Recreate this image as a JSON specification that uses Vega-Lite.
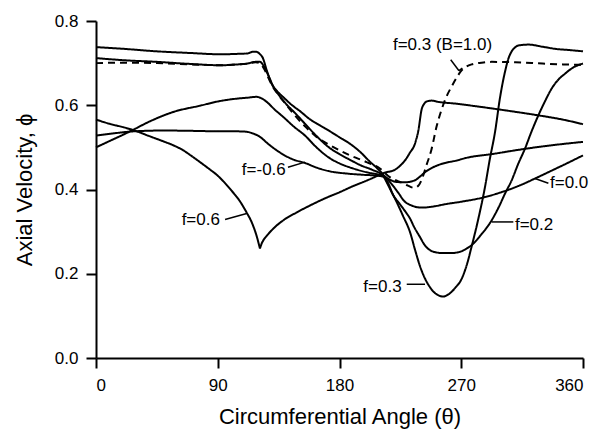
{
  "$schema": "https://vega.github.io/schema/vega-lite/v6.json",
  "width": 487,
  "height": 337,
  "autosize": {"type": "none"},
  "padding": {"left": 96, "top": 21, "right": 27, "bottom": 75},
  "background": "white",
  "config": {
    "view": {"stroke": null},
    "axis": {
      "domainColor": "black", "domainWidth": 2, "tickColor": "black", "tickWidth": 2, "tickSize": 10,
      "grid": false, "labelFont": "Liberation Sans", "labelFontSize": 17, "labelColor": "black",
      "titleFont": "Liberation Sans", "titleFontSize": 22, "titleFontWeight": "normal", "titleColor": "black"
    }
  },
  "datasets": {
    "curves": [
      {"series": "f=0.3", "style": "solid", "x": 0, "y": 0.738},
      {"series": "f=0.3", "style": "solid", "x": 20, "y": 0.734},
      {"series": "f=0.3", "style": "solid", "x": 45, "y": 0.728},
      {"series": "f=0.3", "style": "solid", "x": 70, "y": 0.724},
      {"series": "f=0.3", "style": "solid", "x": 92, "y": 0.721},
      {"series": "f=0.3", "style": "solid", "x": 105, "y": 0.722},
      {"series": "f=0.3", "style": "solid", "x": 112, "y": 0.723},
      {"series": "f=0.3", "style": "solid", "x": 116, "y": 0.727},
      {"series": "f=0.3", "style": "solid", "x": 118.5, "y": 0.727},
      {"series": "f=0.3", "style": "solid", "x": 121, "y": 0.722},
      {"series": "f=0.3", "style": "solid", "x": 123.5, "y": 0.711},
      {"series": "f=0.3", "style": "solid", "x": 126, "y": 0.685},
      {"series": "f=0.3", "style": "solid", "x": 130, "y": 0.65},
      {"series": "f=0.3", "style": "solid", "x": 134, "y": 0.633},
      {"series": "f=0.3", "style": "solid", "x": 138.5, "y": 0.619},
      {"series": "f=0.3", "style": "solid", "x": 145, "y": 0.6},
      {"series": "f=0.3", "style": "solid", "x": 150.8, "y": 0.586},
      {"series": "f=0.3", "style": "solid", "x": 158, "y": 0.567},
      {"series": "f=0.3", "style": "solid", "x": 165.6, "y": 0.552},
      {"series": "f=0.3", "style": "solid", "x": 173, "y": 0.538},
      {"series": "f=0.3", "style": "solid", "x": 180, "y": 0.524},
      {"series": "f=0.3", "style": "solid", "x": 188, "y": 0.508},
      {"series": "f=0.3", "style": "solid", "x": 195, "y": 0.49},
      {"series": "f=0.3", "style": "solid", "x": 202.5, "y": 0.466},
      {"series": "f=0.3", "style": "solid", "x": 208, "y": 0.45},
      {"series": "f=0.3", "style": "solid", "x": 212.5, "y": 0.434},
      {"series": "f=0.3", "style": "solid", "x": 216, "y": 0.415},
      {"series": "f=0.3", "style": "solid", "x": 219, "y": 0.392},
      {"series": "f=0.3", "style": "solid", "x": 222.3, "y": 0.37},
      {"series": "f=0.3", "style": "solid", "x": 227, "y": 0.337},
      {"series": "f=0.3", "style": "solid", "x": 232, "y": 0.3},
      {"series": "f=0.3", "style": "solid", "x": 236, "y": 0.255},
      {"series": "f=0.3", "style": "solid", "x": 239.5, "y": 0.218},
      {"series": "f=0.3", "style": "solid", "x": 243, "y": 0.19},
      {"series": "f=0.3", "style": "solid", "x": 246.9, "y": 0.168},
      {"series": "f=0.3", "style": "solid", "x": 251, "y": 0.153},
      {"series": "f=0.3", "style": "solid", "x": 256.7, "y": 0.146},
      {"series": "f=0.3", "style": "solid", "x": 261, "y": 0.152},
      {"series": "f=0.3", "style": "solid", "x": 265.4, "y": 0.166},
      {"series": "f=0.3", "style": "solid", "x": 270.3, "y": 0.188},
      {"series": "f=0.3", "style": "solid", "x": 274, "y": 0.22},
      {"series": "f=0.3", "style": "solid", "x": 277.7, "y": 0.265},
      {"series": "f=0.3", "style": "solid", "x": 282.6, "y": 0.33},
      {"series": "f=0.3", "style": "solid", "x": 287.5, "y": 0.405},
      {"series": "f=0.3", "style": "solid", "x": 291, "y": 0.47},
      {"series": "f=0.3", "style": "solid", "x": 295, "y": 0.537},
      {"series": "f=0.3", "style": "solid", "x": 298.5, "y": 0.615},
      {"series": "f=0.3", "style": "solid", "x": 302.3, "y": 0.679},
      {"series": "f=0.3", "style": "solid", "x": 305, "y": 0.712},
      {"series": "f=0.3", "style": "solid", "x": 307.3, "y": 0.728},
      {"series": "f=0.3", "style": "solid", "x": 310, "y": 0.738},
      {"series": "f=0.3", "style": "solid", "x": 312.2, "y": 0.742},
      {"series": "f=0.3", "style": "solid", "x": 319.6, "y": 0.744},
      {"series": "f=0.3", "style": "solid", "x": 330, "y": 0.739},
      {"series": "f=0.3", "style": "solid", "x": 339.3, "y": 0.734},
      {"series": "f=0.3", "style": "solid", "x": 350, "y": 0.731},
      {"series": "f=0.3", "style": "solid", "x": 360, "y": 0.728},

      {"series": "f=0.2", "style": "solid", "x": 0, "y": 0.712},
      {"series": "f=0.2", "style": "solid", "x": 20, "y": 0.707},
      {"series": "f=0.2", "style": "solid", "x": 45, "y": 0.703},
      {"series": "f=0.2", "style": "solid", "x": 70, "y": 0.698},
      {"series": "f=0.2", "style": "solid", "x": 92, "y": 0.695},
      {"series": "f=0.2", "style": "solid", "x": 105, "y": 0.697},
      {"series": "f=0.2", "style": "solid", "x": 112, "y": 0.699},
      {"series": "f=0.2", "style": "solid", "x": 118, "y": 0.703},
      {"series": "f=0.2", "style": "solid", "x": 121.2, "y": 0.703},
      {"series": "f=0.2", "style": "solid", "x": 124, "y": 0.693},
      {"series": "f=0.2", "style": "solid", "x": 127.4, "y": 0.671},
      {"series": "f=0.2", "style": "solid", "x": 131, "y": 0.645},
      {"series": "f=0.2", "style": "solid", "x": 135, "y": 0.625},
      {"series": "f=0.2", "style": "solid", "x": 140, "y": 0.605},
      {"series": "f=0.2", "style": "solid", "x": 147, "y": 0.582},
      {"series": "f=0.2", "style": "solid", "x": 154.5, "y": 0.556},
      {"series": "f=0.2", "style": "solid", "x": 163, "y": 0.527},
      {"series": "f=0.2", "style": "solid", "x": 173, "y": 0.498},
      {"series": "f=0.2", "style": "solid", "x": 180, "y": 0.484},
      {"series": "f=0.2", "style": "solid", "x": 188, "y": 0.47},
      {"series": "f=0.2", "style": "solid", "x": 196, "y": 0.457},
      {"series": "f=0.2", "style": "solid", "x": 204, "y": 0.447},
      {"series": "f=0.2", "style": "solid", "x": 212, "y": 0.433},
      {"series": "f=0.2", "style": "solid", "x": 216, "y": 0.41},
      {"series": "f=0.2", "style": "solid", "x": 220, "y": 0.385},
      {"series": "f=0.2", "style": "solid", "x": 224, "y": 0.368},
      {"series": "f=0.2", "style": "solid", "x": 229.7, "y": 0.343},
      {"series": "f=0.2", "style": "solid", "x": 232, "y": 0.332},
      {"series": "f=0.2", "style": "solid", "x": 235, "y": 0.312},
      {"series": "f=0.2", "style": "solid", "x": 239.5, "y": 0.287},
      {"series": "f=0.2", "style": "solid", "x": 243, "y": 0.268},
      {"series": "f=0.2", "style": "solid", "x": 246.9, "y": 0.256},
      {"series": "f=0.2", "style": "solid", "x": 251, "y": 0.251},
      {"series": "f=0.2", "style": "solid", "x": 256.7, "y": 0.249},
      {"series": "f=0.2", "style": "solid", "x": 262, "y": 0.249},
      {"series": "f=0.2", "style": "solid", "x": 269, "y": 0.252},
      {"series": "f=0.2", "style": "solid", "x": 273, "y": 0.258},
      {"series": "f=0.2", "style": "solid", "x": 277.7, "y": 0.268},
      {"series": "f=0.2", "style": "solid", "x": 284, "y": 0.29},
      {"series": "f=0.2", "style": "solid", "x": 292.5, "y": 0.327},
      {"series": "f=0.2", "style": "solid", "x": 298, "y": 0.36},
      {"series": "f=0.2", "style": "solid", "x": 302.3, "y": 0.39},
      {"series": "f=0.2", "style": "solid", "x": 307.3, "y": 0.422},
      {"series": "f=0.2", "style": "solid", "x": 312, "y": 0.46},
      {"series": "f=0.2", "style": "solid", "x": 317.1, "y": 0.497},
      {"series": "f=0.2", "style": "solid", "x": 322, "y": 0.538},
      {"series": "f=0.2", "style": "solid", "x": 327, "y": 0.576},
      {"series": "f=0.2", "style": "solid", "x": 332, "y": 0.61},
      {"series": "f=0.2", "style": "solid", "x": 336.9, "y": 0.64},
      {"series": "f=0.2", "style": "solid", "x": 341, "y": 0.658},
      {"series": "f=0.2", "style": "solid", "x": 346.7, "y": 0.675},
      {"series": "f=0.2", "style": "solid", "x": 353, "y": 0.69},
      {"series": "f=0.2", "style": "solid", "x": 360, "y": 0.699},

      {"series": "f=0.3 (B=1.0)", "style": "dashed", "x": 0, "y": 0.7},
      {"series": "f=0.3 (B=1.0)", "style": "dashed", "x": 20, "y": 0.701},
      {"series": "f=0.3 (B=1.0)", "style": "dashed", "x": 45, "y": 0.7},
      {"series": "f=0.3 (B=1.0)", "style": "dashed", "x": 70, "y": 0.697},
      {"series": "f=0.3 (B=1.0)", "style": "dashed", "x": 92, "y": 0.695},
      {"series": "f=0.3 (B=1.0)", "style": "dashed", "x": 105, "y": 0.697},
      {"series": "f=0.3 (B=1.0)", "style": "dashed", "x": 112, "y": 0.699},
      {"series": "f=0.3 (B=1.0)", "style": "dashed", "x": 118, "y": 0.702},
      {"series": "f=0.3 (B=1.0)", "style": "dashed", "x": 121, "y": 0.7},
      {"series": "f=0.3 (B=1.0)", "style": "dashed", "x": 124, "y": 0.688},
      {"series": "f=0.3 (B=1.0)", "style": "dashed", "x": 127, "y": 0.668},
      {"series": "f=0.3 (B=1.0)", "style": "dashed", "x": 131, "y": 0.642},
      {"series": "f=0.3 (B=1.0)", "style": "dashed", "x": 135, "y": 0.624},
      {"series": "f=0.3 (B=1.0)", "style": "dashed", "x": 140, "y": 0.604},
      {"series": "f=0.3 (B=1.0)", "style": "dashed", "x": 147, "y": 0.576},
      {"series": "f=0.3 (B=1.0)", "style": "dashed", "x": 154.5, "y": 0.55},
      {"series": "f=0.3 (B=1.0)", "style": "dashed", "x": 163, "y": 0.525},
      {"series": "f=0.3 (B=1.0)", "style": "dashed", "x": 173, "y": 0.505},
      {"series": "f=0.3 (B=1.0)", "style": "dashed", "x": 180, "y": 0.493},
      {"series": "f=0.3 (B=1.0)", "style": "dashed", "x": 187.8, "y": 0.481},
      {"series": "f=0.3 (B=1.0)", "style": "dashed", "x": 200, "y": 0.465},
      {"series": "f=0.3 (B=1.0)", "style": "dashed", "x": 209.9, "y": 0.45},
      {"series": "f=0.3 (B=1.0)", "style": "dashed", "x": 216, "y": 0.432},
      {"series": "f=0.3 (B=1.0)", "style": "dashed", "x": 224.7, "y": 0.418},
      {"series": "f=0.3 (B=1.0)", "style": "dashed", "x": 230, "y": 0.41},
      {"series": "f=0.3 (B=1.0)", "style": "dashed", "x": 235, "y": 0.404},
      {"series": "f=0.3 (B=1.0)", "style": "dashed", "x": 238, "y": 0.408},
      {"series": "f=0.3 (B=1.0)", "style": "dashed", "x": 241, "y": 0.425},
      {"series": "f=0.3 (B=1.0)", "style": "dashed", "x": 244, "y": 0.455},
      {"series": "f=0.3 (B=1.0)", "style": "dashed", "x": 248, "y": 0.495},
      {"series": "f=0.3 (B=1.0)", "style": "dashed", "x": 251.8, "y": 0.55},
      {"series": "f=0.3 (B=1.0)", "style": "dashed", "x": 255.5, "y": 0.59},
      {"series": "f=0.3 (B=1.0)", "style": "dashed", "x": 259, "y": 0.62},
      {"series": "f=0.3 (B=1.0)", "style": "dashed", "x": 263, "y": 0.645},
      {"series": "f=0.3 (B=1.0)", "style": "dashed", "x": 266.5, "y": 0.665},
      {"series": "f=0.3 (B=1.0)", "style": "dashed", "x": 270.3, "y": 0.683},
      {"series": "f=0.3 (B=1.0)", "style": "dashed", "x": 274, "y": 0.692},
      {"series": "f=0.3 (B=1.0)", "style": "dashed", "x": 277.7, "y": 0.697},
      {"series": "f=0.3 (B=1.0)", "style": "dashed", "x": 285, "y": 0.701},
      {"series": "f=0.3 (B=1.0)", "style": "dashed", "x": 292.5, "y": 0.703},
      {"series": "f=0.3 (B=1.0)", "style": "dashed", "x": 310, "y": 0.702},
      {"series": "f=0.3 (B=1.0)", "style": "dashed", "x": 330, "y": 0.699},
      {"series": "f=0.3 (B=1.0)", "style": "dashed", "x": 345, "y": 0.697},
      {"series": "f=0.3 (B=1.0)", "style": "dashed", "x": 360, "y": 0.696},

      {"series": "f=0.0", "style": "solid", "x": 0, "y": 0.5},
      {"series": "f=0.0", "style": "solid", "x": 10, "y": 0.515},
      {"series": "f=0.0", "style": "solid", "x": 20, "y": 0.53},
      {"series": "f=0.0", "style": "solid", "x": 27.6, "y": 0.542},
      {"series": "f=0.0", "style": "solid", "x": 40, "y": 0.562},
      {"series": "f=0.0", "style": "solid", "x": 57.1, "y": 0.584},
      {"series": "f=0.0", "style": "solid", "x": 76.9, "y": 0.599},
      {"series": "f=0.0", "style": "solid", "x": 91.7, "y": 0.61},
      {"series": "f=0.0", "style": "solid", "x": 105, "y": 0.616},
      {"series": "f=0.0", "style": "solid", "x": 112, "y": 0.618},
      {"series": "f=0.0", "style": "solid", "x": 118.8, "y": 0.62},
      {"series": "f=0.0", "style": "solid", "x": 122, "y": 0.617},
      {"series": "f=0.0", "style": "solid", "x": 126.2, "y": 0.608},
      {"series": "f=0.0", "style": "solid", "x": 132, "y": 0.59},
      {"series": "f=0.0", "style": "solid", "x": 138.5, "y": 0.572},
      {"series": "f=0.0", "style": "solid", "x": 146, "y": 0.55},
      {"series": "f=0.0", "style": "solid", "x": 154.5, "y": 0.528},
      {"series": "f=0.0", "style": "solid", "x": 163, "y": 0.5},
      {"series": "f=0.0", "style": "solid", "x": 173, "y": 0.474},
      {"series": "f=0.0", "style": "solid", "x": 180, "y": 0.462},
      {"series": "f=0.0", "style": "solid", "x": 190, "y": 0.45},
      {"series": "f=0.0", "style": "solid", "x": 200, "y": 0.441},
      {"series": "f=0.0", "style": "solid", "x": 208, "y": 0.436},
      {"series": "f=0.0", "style": "solid", "x": 213, "y": 0.432},
      {"series": "f=0.0", "style": "solid", "x": 218, "y": 0.415},
      {"series": "f=0.0", "style": "solid", "x": 223.5, "y": 0.392},
      {"series": "f=0.0", "style": "solid", "x": 228, "y": 0.372},
      {"series": "f=0.0", "style": "solid", "x": 233.4, "y": 0.362},
      {"series": "f=0.0", "style": "solid", "x": 240.7, "y": 0.357},
      {"series": "f=0.0", "style": "solid", "x": 250, "y": 0.36},
      {"series": "f=0.0", "style": "solid", "x": 258, "y": 0.365},
      {"series": "f=0.0", "style": "solid", "x": 270, "y": 0.371},
      {"series": "f=0.0", "style": "solid", "x": 287.5, "y": 0.382},
      {"series": "f=0.0", "style": "solid", "x": 300, "y": 0.394},
      {"series": "f=0.0", "style": "solid", "x": 312, "y": 0.408},
      {"series": "f=0.0", "style": "solid", "x": 324.5, "y": 0.426},
      {"series": "f=0.0", "style": "solid", "x": 335, "y": 0.442},
      {"series": "f=0.0", "style": "solid", "x": 348, "y": 0.462},
      {"series": "f=0.0", "style": "solid", "x": 360, "y": 0.481},

      {"series": "f=-0.6", "style": "solid", "x": 0, "y": 0.528},
      {"series": "f=-0.6", "style": "solid", "x": 15, "y": 0.534},
      {"series": "f=-0.6", "style": "solid", "x": 27.6, "y": 0.538},
      {"series": "f=-0.6", "style": "solid", "x": 50, "y": 0.54},
      {"series": "f=-0.6", "style": "solid", "x": 75, "y": 0.539},
      {"series": "f=-0.6", "style": "solid", "x": 91.7, "y": 0.538},
      {"series": "f=-0.6", "style": "solid", "x": 105, "y": 0.538},
      {"series": "f=-0.6", "style": "solid", "x": 111.4, "y": 0.537},
      {"series": "f=-0.6", "style": "solid", "x": 116, "y": 0.533},
      {"series": "f=-0.6", "style": "solid", "x": 121.2, "y": 0.525},
      {"series": "f=-0.6", "style": "solid", "x": 127, "y": 0.509},
      {"series": "f=-0.6", "style": "solid", "x": 133.6, "y": 0.493},
      {"series": "f=-0.6", "style": "solid", "x": 140, "y": 0.48},
      {"series": "f=-0.6", "style": "solid", "x": 145.9, "y": 0.471},
      {"series": "f=-0.6", "style": "solid", "x": 154.5, "y": 0.463},
      {"series": "f=-0.6", "style": "solid", "x": 163, "y": 0.452},
      {"series": "f=-0.6", "style": "solid", "x": 173, "y": 0.443},
      {"series": "f=-0.6", "style": "solid", "x": 185, "y": 0.438},
      {"series": "f=-0.6", "style": "solid", "x": 197, "y": 0.435},
      {"series": "f=-0.6", "style": "solid", "x": 207, "y": 0.433},
      {"series": "f=-0.6", "style": "solid", "x": 213, "y": 0.43},
      {"series": "f=-0.6", "style": "solid", "x": 218, "y": 0.422},
      {"series": "f=-0.6", "style": "solid", "x": 222, "y": 0.418},
      {"series": "f=-0.6", "style": "solid", "x": 228, "y": 0.417},
      {"series": "f=-0.6", "style": "solid", "x": 235.8, "y": 0.422},
      {"series": "f=-0.6", "style": "solid", "x": 240, "y": 0.432},
      {"series": "f=-0.6", "style": "solid", "x": 243.2, "y": 0.441},
      {"series": "f=-0.6", "style": "solid", "x": 250, "y": 0.454},
      {"series": "f=-0.6", "style": "solid", "x": 258, "y": 0.463},
      {"series": "f=-0.6", "style": "solid", "x": 265.4, "y": 0.468},
      {"series": "f=-0.6", "style": "solid", "x": 275, "y": 0.476},
      {"series": "f=-0.6", "style": "solid", "x": 292.5, "y": 0.484},
      {"series": "f=-0.6", "style": "solid", "x": 310, "y": 0.493},
      {"series": "f=-0.6", "style": "solid", "x": 327, "y": 0.501},
      {"series": "f=-0.6", "style": "solid", "x": 345, "y": 0.508},
      {"series": "f=-0.6", "style": "solid", "x": 360, "y": 0.513},

      {"series": "f=0.6a", "style": "solid", "x": 0, "y": 0.566},
      {"series": "f=0.6a", "style": "solid", "x": 10, "y": 0.556},
      {"series": "f=0.6a", "style": "solid", "x": 20, "y": 0.548},
      {"series": "f=0.6a", "style": "solid", "x": 27.6, "y": 0.541},
      {"series": "f=0.6a", "style": "solid", "x": 40, "y": 0.526},
      {"series": "f=0.6a", "style": "solid", "x": 50, "y": 0.514},
      {"series": "f=0.6a", "style": "solid", "x": 57.1, "y": 0.505},
      {"series": "f=0.6a", "style": "solid", "x": 64.5, "y": 0.493},
      {"series": "f=0.6a", "style": "solid", "x": 70, "y": 0.481},
      {"series": "f=0.6a", "style": "solid", "x": 76.9, "y": 0.465},
      {"series": "f=0.6a", "style": "solid", "x": 84, "y": 0.448},
      {"series": "f=0.6a", "style": "solid", "x": 89.2, "y": 0.435},
      {"series": "f=0.6a", "style": "solid", "x": 94, "y": 0.42},
      {"series": "f=0.6a", "style": "solid", "x": 100, "y": 0.398},
      {"series": "f=0.6a", "style": "solid", "x": 106.4, "y": 0.372},
      {"series": "f=0.6a", "style": "solid", "x": 111.4, "y": 0.345},
      {"series": "f=0.6a", "style": "solid", "x": 115, "y": 0.323},
      {"series": "f=0.6a", "style": "solid", "x": 118.8, "y": 0.289},
      {"series": "f=0.6a", "style": "solid", "x": 121.2, "y": 0.26},

      {"series": "f=0.6b", "style": "solid", "x": 121.2, "y": 0.26},
      {"series": "f=0.6b", "style": "solid", "x": 122.5, "y": 0.272},
      {"series": "f=0.6b", "style": "solid", "x": 124, "y": 0.281},
      {"series": "f=0.6b", "style": "solid", "x": 126.2, "y": 0.29},
      {"series": "f=0.6b", "style": "solid", "x": 132, "y": 0.31},
      {"series": "f=0.6b", "style": "solid", "x": 138.5, "y": 0.327},
      {"series": "f=0.6b", "style": "solid", "x": 148, "y": 0.345},
      {"series": "f=0.6b", "style": "solid", "x": 158.2, "y": 0.362},
      {"series": "f=0.6b", "style": "solid", "x": 170, "y": 0.38},
      {"series": "f=0.6b", "style": "solid", "x": 180.4, "y": 0.394},
      {"series": "f=0.6b", "style": "solid", "x": 190, "y": 0.408},
      {"series": "f=0.6b", "style": "solid", "x": 200, "y": 0.421},
      {"series": "f=0.6b", "style": "solid", "x": 207, "y": 0.431},
      {"series": "f=0.6b", "style": "solid", "x": 212.4, "y": 0.439},
      {"series": "f=0.6b", "style": "solid", "x": 221, "y": 0.447},
      {"series": "f=0.6b", "style": "solid", "x": 225, "y": 0.457},
      {"series": "f=0.6b", "style": "solid", "x": 228.4, "y": 0.469},
      {"series": "f=0.6b", "style": "solid", "x": 232, "y": 0.487},
      {"series": "f=0.6b", "style": "solid", "x": 235.8, "y": 0.509},
      {"series": "f=0.6b", "style": "solid", "x": 238.3, "y": 0.54},
      {"series": "f=0.6b", "style": "solid", "x": 240.7, "y": 0.59},
      {"series": "f=0.6b", "style": "solid", "x": 242.5, "y": 0.603},
      {"series": "f=0.6b", "style": "solid", "x": 244.4, "y": 0.609},
      {"series": "f=0.6b", "style": "solid", "x": 248, "y": 0.611},
      {"series": "f=0.6b", "style": "solid", "x": 253, "y": 0.608},
      {"series": "f=0.6b", "style": "solid", "x": 265.4, "y": 0.604},
      {"series": "f=0.6b", "style": "solid", "x": 280, "y": 0.598},
      {"series": "f=0.6b", "style": "solid", "x": 302.3, "y": 0.588},
      {"series": "f=0.6b", "style": "solid", "x": 327, "y": 0.576},
      {"series": "f=0.6b", "style": "solid", "x": 345, "y": 0.566},
      {"series": "f=0.6b", "style": "solid", "x": 360, "y": 0.555}
    ],
    "labels": [
      {"label": "f=0.3 (B=1.0)", "x": 219.5, "y": 0.73},
      {"label": "f=-0.6", "x": 107.8, "y": 0.434},
      {"label": "f=0.6", "x": 63.3, "y": 0.315},
      {"label": "f=0.0", "x": 335.6, "y": 0.403},
      {"label": "f=0.2", "x": 309.7, "y": 0.303},
      {"label": "f=0.3", "x": 197.6, "y": 0.157}
    ],
    "leaders": [
      {"x": 262.2, "y": 0.708, "x2": 268.3, "y2": 0.682},
      {"x": 268.3, "y": 0.682, "x2": 270.8, "y2": 0.688},
      {"x": 141.9, "y": 0.453, "x2": 154.5, "y2": 0.465},
      {"x": 95.4, "y": 0.329, "x2": 111.4, "y2": 0.343},
      {"x": 324.5, "y": 0.426, "x2": 334.4, "y2": 0.415},
      {"x": 292.5, "y": 0.323, "x2": 308.5, "y2": 0.323},
      {"x": 229.7, "y": 0.175, "x2": 243.2, "y2": 0.175}
    ]
  },
  "layer": [
    {
      "data": {"name": "curves"},
      "mark": {"type": "line", "interpolate": "monotone", "strokeWidth": 2, "color": "black"},
      "encoding": {
        "x": {"field": "x", "type": "quantitative", "scale": {"domain": [0, 360], "nice": false, "zero": false},
              "axis": {"values": [0, 90, 180, 270, 360], "title": "Circumferential Angle (θ)", "labelPadding": 9, "titlePadding": 13}},
        "y": {"field": "y", "type": "quantitative", "scale": {"domain": [0, 0.8], "nice": false},
              "axis": {"values": [0, 0.2, 0.4, 0.6, 0.8], "format": ".1f", "title": "Axial Velocity, ϕ", "labelPadding": 8, "titlePadding": 18}},
        "detail": {"field": "series"},
        "strokeDash": {"field": "style", "type": "nominal", "scale": {"domain": ["solid", "dashed"], "range": [[1, 0], [7, 5]]}, "legend": null}
      }
    },
    {
      "data": {"name": "leaders"},
      "mark": {"type": "rule", "strokeWidth": 1.5, "color": "black"},
      "encoding": {
        "x": {"field": "x", "type": "quantitative"},
        "y": {"field": "y", "type": "quantitative"},
        "x2": {"field": "x2"},
        "y2": {"field": "y2"}
      }
    },
    {
      "data": {"name": "labels"},
      "mark": {"type": "text", "align": "left", "baseline": "alphabetic", "font": "Liberation Sans", "fontSize": 17, "color": "black"},
      "encoding": {
        "x": {"field": "x", "type": "quantitative"},
        "y": {"field": "y", "type": "quantitative"},
        "text": {"field": "label"}
      }
    }
  ]
}
